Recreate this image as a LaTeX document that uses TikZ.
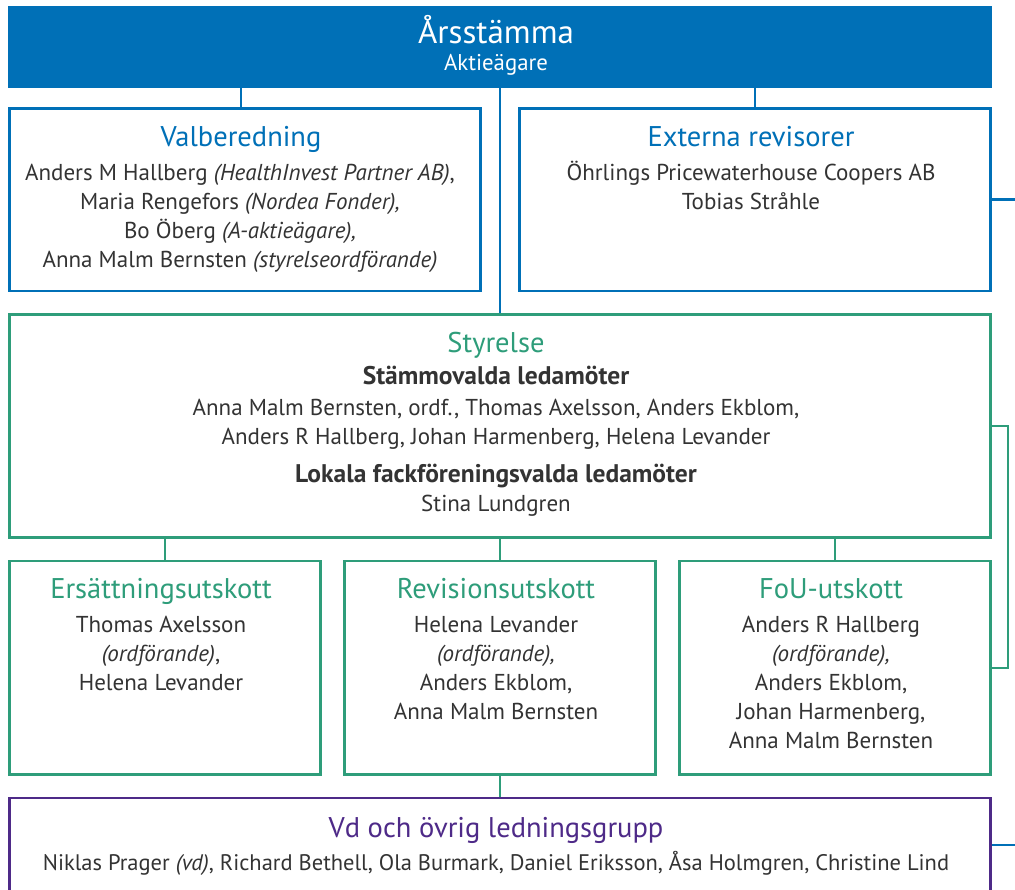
\documentclass[tikz,border=0pt]{standalone}
\usepackage{fontspec}
\setmainfont{PT Sans}
\definecolor{cblue}{HTML}{0070B7}
\definecolor{cgreen}{HTML}{2E9D7A}
\definecolor{cpurple}{HTML}{4E2A88}
\definecolor{ctext}{HTML}{333333}
\begin{document}
\begin{tikzpicture}[x=1pt,y=-1pt,
  box/.style={draw=#1, line width=2.8pt, fill=white, inner sep=0, rectangle},
  conn/.style={draw=#1, line width=2.5pt},
  head/.style={font=\fontsize{28.5}{32}\selectfont, text=#1, anchor=base, inner sep=0},
  body/.style={font=\fontsize{23}{27}\selectfont, text=ctext, anchor=base, inner sep=0},
  bodyb/.style={font=\fontsize{25.5}{29}\selectfont\bfseries, text=ctext, anchor=base, inner sep=0}]
\useasboundingbox (0,0) rectangle (1015,890);
\clip (0,0) rectangle (1015,890);
% boxes
\node[fill=cblue, inner sep=0, minimum width=984, minimum height=82] (bar) at (500,47) {};
\node[box=cblue, minimum width=471, minimum height=182.5] (valb) at (245,199.75) {};
\node[box=cblue, minimum width=471, minimum height=182.5] (ext) at (755,199.75) {};
\node[box=cgreen, minimum width=981, minimum height=223] (sty) at (500,426) {};
\node[box=cgreen, minimum width=311, minimum height=213.5] (ers) at (165,667.75) {};
\node[box=cgreen, minimum width=311, minimum height=213.5] (rev) at (500,667.75) {};
\node[box=cgreen, minimum width=311, minimum height=213.5] (fou) at (835,667.75) {};
\node[box=cpurple, minimum width=981, minimum height=122] (vd) at (500,859) {};
% connectors
\draw[conn=cblue] ([xshift=-4pt]valb.north) -- ([xshift=-4pt]valb.north |- bar.south);
\draw[conn=cblue] (bar.south -| ext.north) -- (ext.north);
\draw[conn=cblue] (bar.south) -- (sty.north);
\draw[conn=cgreen] (ers.north |- sty.south) -- (ers.north);
\draw[conn=cgreen] (sty.south) -- (rev.north);
\draw[conn=cgreen] (fou.north |- sty.south) -- (fou.north);
\draw[conn=cgreen] (rev.south) -- (vd.north);
\coordinate (br) at (1008,426);
\draw[conn=cgreen] (sty.east) -- (br) |- (fou.east);
\coordinate (r1) at (1016,199.75);
\draw[conn=cblue] (ext.east) -- (r1);
\coordinate (r2) at (1016,845);
\draw[conn=cblue] (r2 -| vd.east) -- (r2);
% title
\node[font=\fontsize{33}{38}\selectfont, text=white, anchor=base, inner sep=0] (t1) at (496,44) {Årsstämma};
\node[font=\fontsize{22.8}{26}\selectfont, text=white, anchor=base, inner sep=0] (t2) at (496,71) {Aktieägare};
% Valberedning
\node[head=cblue] (vh) at (241,147) {Valberedning};
\node[body] (v1) at (240,181) {Anders M Hallberg \textit{(HealthInvest Partner AB)},};
\node[body] (v2) at (240,210) {Maria Rengefors \textit{(Nordea Fonder),}};
\node[body] (v3) at (240,239) {Bo Öberg \textit{(A-aktieägare),}};
\node[body] (v4) at (240,268) {Anna Malm Bernsten \textit{(styrelseordförande)}};
% Externa
\node[head=cblue] (eh) at (751,147) {Externa revisorer};
\node[body] (e1) at (751,181) {Öhrlings Pricewaterhouse Coopers AB};
\node[body] (e2) at (751,210) {Tobias Stråhle};
% Styrelse
\node[head=cgreen] (sh) at (496,352.5) {Styrelse};
\node[bodyb] (s1) at (496,385) {Stämmovalda ledamöter};
\node[body] (s2) at (496,416) {Anna Malm Bernsten, ordf., Thomas Axelsson, Anders Ekblom,};
\node[body] (s3) at (496,444.5) {Anders R Hallberg, Johan Harmenberg, Helena Levander};
\node[bodyb] (s4) at (496,482.5) {Lokala fackföreningsvalda ledamöter};
\node[body] (s5) at (496,511.5) {Stina Lundgren};
% Ersattning
\node[head=cgreen] (ah) at (161,598.5) {Ersättningsutskott};
\node[body] (a1) at (161,632.5) {Thomas Axelsson};
\node[body] (a2) at (161,661.5) {\textit{(ordförande)},};
\node[body] (a3) at (161,690.5) {Helena Levander};
% Revision
\node[head=cgreen] (rh) at (496,598.5) {Revisionsutskott};
\node[body] (r1t) at (496,632.5) {Helena Levander};
\node[body] (r2t) at (496,661.5) {\textit{(ordförande),}};
\node[body] (r3t) at (496,690.5) {Anders Ekblom,};
\node[body] (r4t) at (496,719.5) {Anna Malm Bernsten};
% FoU
\node[head=cgreen] (fh) at (831,598.5) {FoU-utskott};
\node[body] (f1) at (831,632.5) {Anders R Hallberg};
\node[body] (f2) at (831,661.5) {\textit{(ordförande),}};
\node[body] (f3) at (831,690.5) {Anders Ekblom,};
\node[body] (f4) at (831,719.5) {Johan Harmenberg,};
\node[body] (f5) at (831,748.5) {Anna Malm Bernsten};
% Vd
\node[head=cpurple] (dh) at (496,837) {Vd och övrig ledningsgrupp};
\node[body, font=\fontsize{22.5}{27}\selectfont] (d1) at (496,870.5) {Niklas Prager \textit{(vd)}, Richard Bethell, Ola Burmark, Daniel Eriksson, Åsa Holmgren, Christine Lind};
\end{tikzpicture}
\end{document}
